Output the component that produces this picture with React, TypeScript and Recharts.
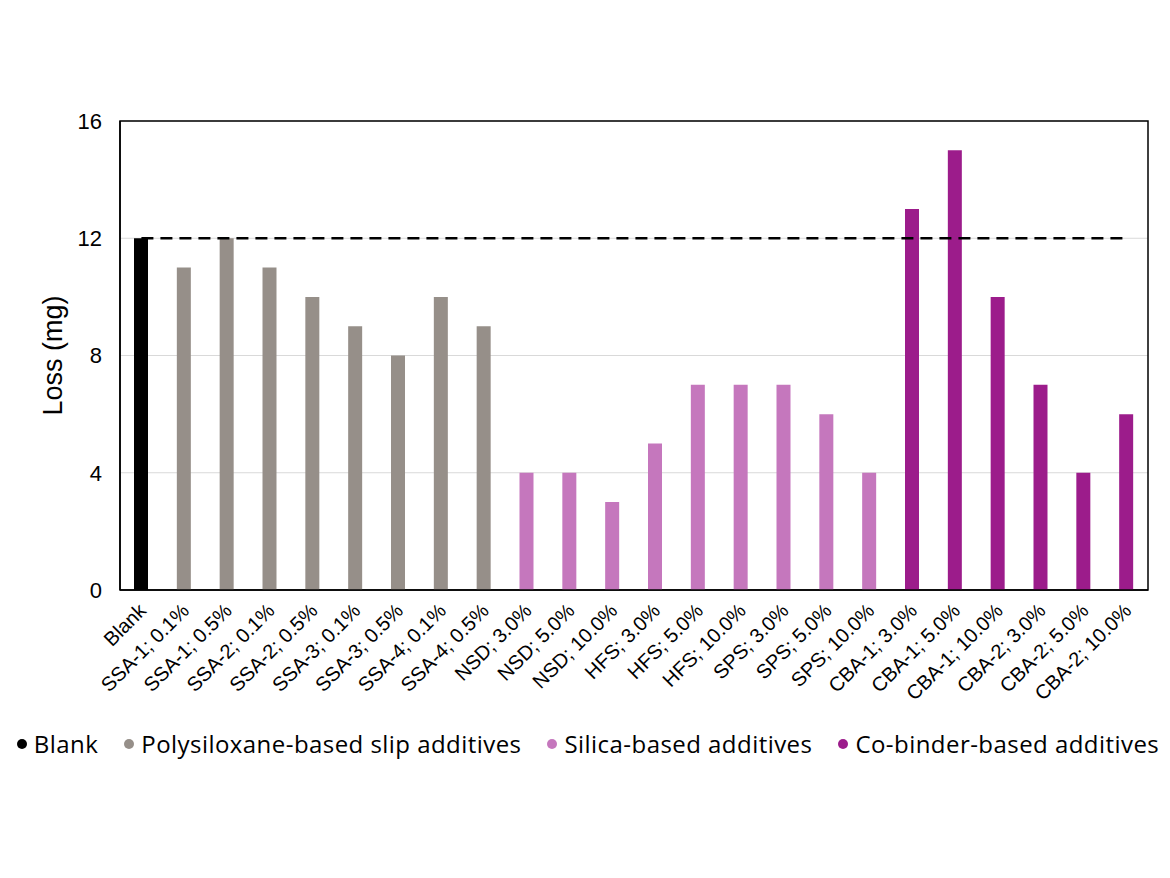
import React from 'react';
import { BarChart, Bar, XAxis, YAxis, CartesianGrid, Cell, ReferenceLine, ReferenceArea, Legend } from 'recharts';

const categories = [
  'Blank', 'SSA-1; 0.1%', 'SSA-1; 0.5%', 'SSA-2; 0.1%', 'SSA-2; 0.5%', 'SSA-3; 0.1%', 'SSA-3; 0.5%',
  'SSA-4; 0.1%', 'SSA-4; 0.5%', 'NSD; 3.0%', 'NSD; 5.0%', 'NSD; 10.0%', 'HFS; 3.0%', 'HFS; 5.0%',
  'HFS; 10.0%', 'SPS; 3.0%', 'SPS; 5.0%', 'SPS; 10.0%', 'CBA-1; 3.0%', 'CBA-1; 5.0%', 'CBA-1; 10.0%',
  'CBA-2; 3.0%', 'CBA-2; 5.0%', 'CBA-2; 10.0%',
];
const lossValues = [12, 11, 12, 11, 10, 9, 8, 10, 9, 4, 4, 3, 5, 7, 7, 7, 6, 4, 13, 15, 10, 7, 4, 6];
const groupOf = [0, 1, 1, 1, 1, 1, 1, 1, 1, 2, 2, 2, 2, 2, 2, 2, 2, 2, 3, 3, 3, 3, 3, 3];
const groupNames = ['Blank', 'Polysiloxane-based slip additives', 'Silica-based additives', 'Co-binder-based additives'];
const groupColors = ['#000000', '#968f89', '#c577bd', '#9c1c8b'];
const yTicks = [0, 4, 8, 12, 16];
const blankLevel = 12;

const data = categories.map((c, i) => ({ name: c, loss: lossValues[i], group: groupOf[i] }));

const XTick = (props: any) => {
  const { x, y, payload } = props;
  return (
    <g transform={`translate(${x + 6},${y + 14})`}>
      <text x={0} y={0} dy={0} textAnchor="end" transform="rotate(-45)" fontFamily="Liberation Sans, Arial, sans-serif" fontSize={20} fill="#000">
        {payload.value}
      </text>
    </g>
  );
};

const LegendContent = () => (
  <div style={{ display: 'flex', justifyContent: 'center', alignItems: 'center', fontFamily: '"Open Sans", "Noto Sans", sans-serif', fontSize: 24, letterSpacing: 0.45, color: '#000', whiteSpace: 'nowrap' }}>
    {groupNames.map((n, i) => (
      <div key={n} style={{ display: 'flex', alignItems: 'center', marginRight: i < groupNames.length - 1 ? 26 : 0 }}>
        <span style={{ display: 'inline-block', width: 10, height: 10, borderRadius: 5, background: groupColors[i], marginRight: 7 }} />
        <span>{n}</span>
      </div>
    ))}
  </div>
);

export default function App() {
  return (
    <div style={{ width: 1160, height: 800 }}>
      <BarChart width={1160} height={800} data={data} margin={{ top: 113, right: 20, left: 52, bottom: 75 }}>
        <CartesianGrid vertical={false} stroke="#d9d9d9" strokeWidth={1.2} />
        <XAxis dataKey="name" interval={0} tick={<XTick />} tickLine={false} axisLine={{ stroke: '#000', strokeWidth: 1.5 }} height={110} />
        <YAxis domain={[0, 16]} ticks={yTicks} tickLine={false} axisLine={{ stroke: '#000', strokeWidth: 1.5 }} width={60}
          tick={{ fontFamily: 'Liberation Sans, Arial, sans-serif', fontSize: 22, fill: '#000' }} tickMargin={12}
          label={{ value: 'Loss (mg)', angle: -90, position: 'insideLeft', offset: -8, style: { fontFamily: 'Liberation Sans, Arial, sans-serif', fontSize: 27, fill: '#000', textAnchor: 'middle' } }} />
        <ReferenceArea y1={0} y2={16} fill="none" fillOpacity={0} stroke="#000" strokeWidth={1.5} ifOverflow="visible" />
        <Bar dataKey="loss" barSize={14} isAnimationActive={false}>
          {data.map((d, i) => (
            <Cell key={i} fill={groupColors[d.group]} />
          ))}
        </Bar>
        <ReferenceLine segment={[{ x: categories[0], y: blankLevel }, { x: categories[categories.length - 1], y: blankLevel }]}
          stroke="#000" strokeWidth={2.5} strokeDasharray="12 7" ifOverflow="extendDomain" />
        <Legend content={<LegendContent />} verticalAlign="bottom" wrapperStyle={{ bottom: 48, left: 0, width: 1160 }} />
      </BarChart>
    </div>
  );
}
